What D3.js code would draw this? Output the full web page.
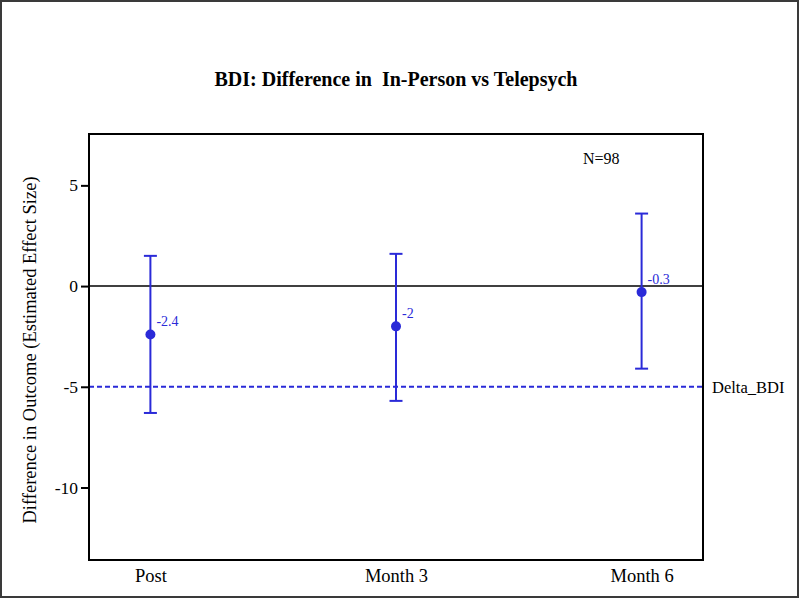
<!DOCTYPE html>
<html>
<head>
<meta charset="utf-8">
<script src="https://cdn.jsdelivr.net/npm/d3@7"></script>
<style>
  html, body { margin: 0; padding: 0; background: #fff; }
  svg { display: block; }
  text { font-family: "Liberation Serif", "Times New Roman", serif; white-space: pre; }
</style>
</head>
<body>
<svg id="chart" width="800" height="600"></svg>
<script>
// Data
const categories = ["Post", "Month 3", "Month 6"];
const estimates = [-2.4, -2, -0.3];
const lowerCI = [-6.3, -5.7, -4.1];
const upperCI = [1.5, 1.6, 3.6];
const yTicks = [5, 0, -5, -10];
const deltaValue = -5;
const deltaLabel = "Delta_BDI";
const titleText = "BDI: Difference in  In-Person vs Telepsych";
const yAxisLabel = "Difference in Outcome (Estimated Effect Size)";
const nLabel = "N=98";

const blue = "#2a2ad8";
const svg = d3.select("#chart");
const fmt = d => String(d);

// outer frame
svg.append("rect")
  .attr("x", 1).attr("y", 1).attr("width", 797).attr("height", 596)
  .attr("fill", "#fff").attr("stroke", "#3a3a3a").attr("stroke-width", 2);

const plot = { left: 89, right: 703, top: 134, bottom: 560 };

const x = d3.scalePoint().domain(categories).range([plot.left, plot.right]).padding(0.25);
const y = d3.scaleLinear().domain([-13.6, 7.55]).range([plot.bottom, plot.top]);

// title
svg.append("text")
  .attr("x", 396).attr("y", 86)
  .attr("text-anchor", "middle")
  .attr("font-size", 20).attr("font-weight", "bold")
  .attr("xml:space", "preserve")
  .text(titleText);

// y axis label
svg.append("text")
  .attr("transform", `translate(36, ${(plot.top + plot.bottom) / 2 + 3}) rotate(-90)`)
  .attr("text-anchor", "middle")
  .attr("font-size", 18.5)
  .text(yAxisLabel);

// y axis
const yAxis = svg.append("g")
  .attr("transform", `translate(${plot.left},0)`)
  .call(d3.axisLeft(y).tickValues(yTicks).tickSize(8).tickPadding(3).tickFormat(fmt));
yAxis.select(".domain").remove();
yAxis.selectAll(".tick line").attr("stroke", "#000").attr("stroke-width", 2);
yAxis.selectAll(".tick text")
  .attr("font-family", "Liberation Serif, serif")
  .attr("font-size", 17.5).attr("fill", "#000");

// x axis labels
const xAxis = svg.append("g")
  .attr("transform", `translate(0,${plot.bottom})`)
  .call(d3.axisBottom(x).tickSize(0).tickPadding(9));
xAxis.select(".domain").remove();
xAxis.selectAll(".tick text")
  .attr("font-family", "Liberation Serif, serif")
  .attr("font-size", 18.5).attr("fill", "#000");

// zero line
svg.append("line")
  .attr("x1", plot.left).attr("x2", plot.right)
  .attr("y1", y(0)).attr("y2", y(0))
  .attr("stroke", "#000").attr("stroke-width", 1.5);

// delta line
svg.append("line")
  .attr("x1", plot.left).attr("x2", plot.right)
  .attr("y1", y(deltaValue)).attr("y2", y(deltaValue))
  .attr("stroke", blue).attr("stroke-width", 2)
  .attr("stroke-dasharray", "5,3");

svg.append("text")
  .attr("x", plot.right + 9).attr("y", y(deltaValue) + 6)
  .attr("font-size", 16.5).attr("fill", "#000")
  .text(deltaLabel);

// N label
svg.append("text")
  .attr("x", 583).attr("y", 164)
  .attr("font-size", 16).attr("fill", "#000")
  .text(nLabel);

// error bars
const data = categories.map((c, i) => ({ c, est: estimates[i], lo: lowerCI[i], hi: upperCI[i] }));
const g = svg.append("g");
const capW = 6.5;
g.selectAll(".bar").data(data).join("line")
  .attr("x1", d => x(d.c)).attr("x2", d => x(d.c))
  .attr("y1", d => y(d.lo)).attr("y2", d => y(d.hi))
  .attr("stroke", blue).attr("stroke-width", 2);
g.selectAll(".capHi").data(data).join("line")
  .attr("x1", d => x(d.c) - capW).attr("x2", d => x(d.c) + capW)
  .attr("y1", d => y(d.hi)).attr("y2", d => y(d.hi))
  .attr("stroke", blue).attr("stroke-width", 2);
g.selectAll(".capLo").data(data).join("line")
  .attr("x1", d => x(d.c) - capW).attr("x2", d => x(d.c) + capW)
  .attr("y1", d => y(d.lo)).attr("y2", d => y(d.lo))
  .attr("stroke", blue).attr("stroke-width", 2);
g.selectAll("circle").data(data).join("circle")
  .attr("cx", d => x(d.c)).attr("cy", d => y(d.est))
  .attr("r", 5).attr("fill", blue);
g.selectAll(".val").data(data).join("text")
  .attr("x", d => x(d.c) + 6).attr("y", d => y(d.est) - 8)
  .attr("font-size", 14).attr("fill", blue)
  .text(d => fmt(d.est));

// plot frame
svg.append("rect")
  .attr("x", plot.left).attr("y", plot.top)
  .attr("width", plot.right - plot.left).attr("height", plot.bottom - plot.top)
  .attr("fill", "none").attr("stroke", "#000").attr("stroke-width", 2);
</script>
</body>
</html>
